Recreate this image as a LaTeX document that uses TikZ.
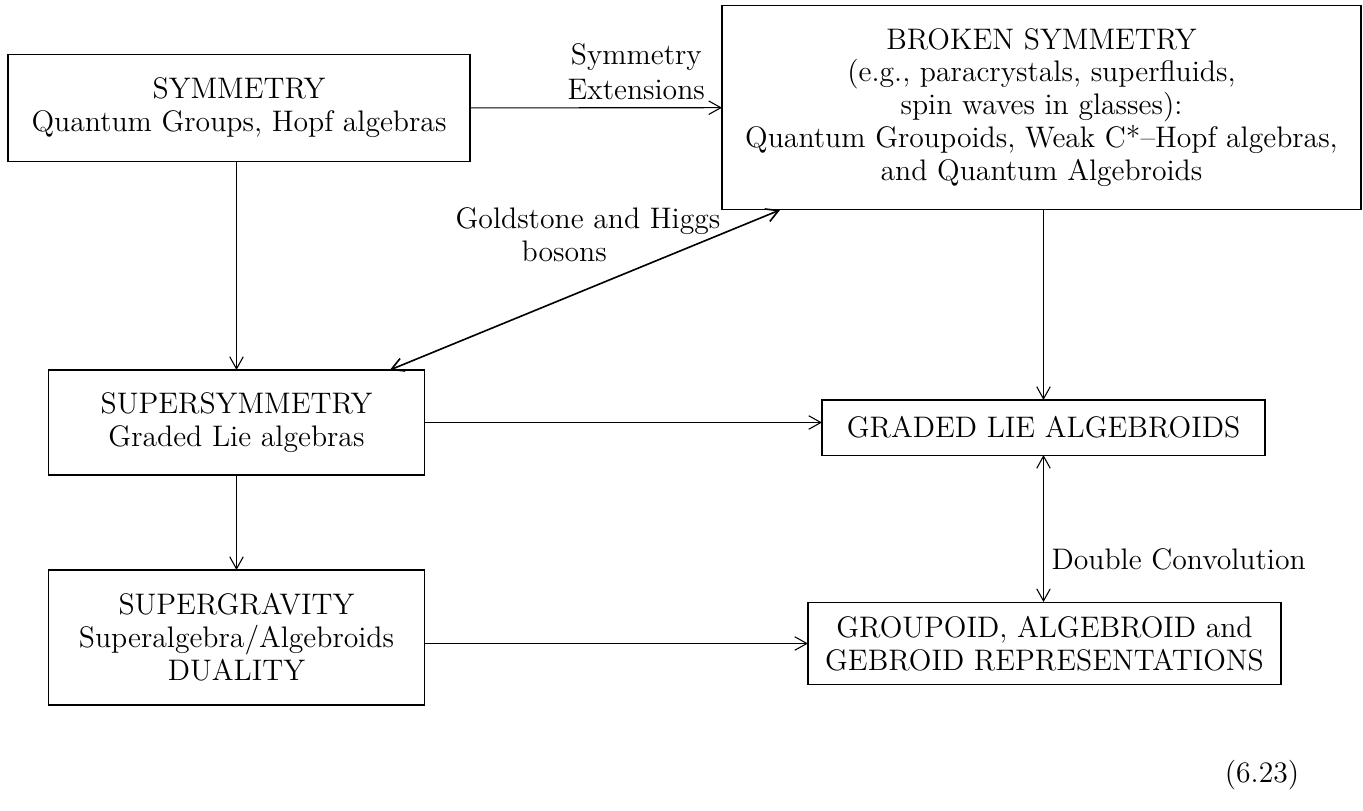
\documentclass[tikz,border=0pt]{standalone}
\usepackage{xcolor}
\usepackage{tikz}
\usetikzlibrary{arrows.meta}

\begin{document}
\begin{tikzpicture}[x=0.3704pt,y=-0.3704pt,
  box/.style={draw=drawColor,line width=0.4pt,align=center,inner sep=0pt,outer sep=0pt,font=\fontsize{11}{12.2}\selectfont},
  lbl/.style={text=drawColor,align=center,inner sep=0pt,outer sep=0pt,font=\fontsize{11}{12.2}\selectfont},
  arr/.style={draw=drawColor,line width=0.4pt,-{Straight Barb[length=4.5pt,width=5pt]}},
  dblarr/.style={arr,{Straight Barb[length=4.5pt,width=5pt]}-{Straight Barb[length=4.5pt,width=5pt]}}]
\definecolor{drawColor}{RGB}{0,0,0}
\definecolor{fillColor}{RGB}{255,255,255}
\path[use as bounding box,fill=fillColor] (0,0) rectangle (1363,810);

\node[box,minimum width=171.1pt,minimum height=39.6pt] (sym) at (239,108) {SYMMETRY\\Quantum Groups, Hopf algebras};

\node[box,minimum width=236.7pt,minimum height=75.9pt] (broken) at (1041.5,107.5) {BROKEN SYMMETRY\\(e.g., paracrystals, superfluids,\\spin waves in glasses):\\Quantum Groupoids, Weak C*--Hopf algebras,\\and Quantum Algebroids};

\node[box,minimum width=139.6pt,minimum height=38.9pt] (susy) at (236.5,422.5) {SUPERSYMMETRY\\Graded Lie algebras};

\node[box,minimum width=164.1pt,minimum height=20.4pt] (graded) at (1043.5,427.5) {GRADED LIE ALGEBROIDS};

\node[box,minimum width=139.6pt,minimum height=50.0pt] (sugra) at (236.5,637.5) {SUPERGRAVITY\\Superalgebra/Algebroids\\DUALITY};

\node[box,minimum width=175.2pt,minimum height=30.7pt] (grp) at (1044.5,643.5) {GROUPOID, ALGEBROID and\\GEBROID REPRESENTATIONS};

\node[lbl] (eqno) at (1262,775) {(6.23)};

\draw[arr] (sym) -- (broken) node[lbl,above,pos=0.66,yshift=3pt,font=\fontsize{11}{13}\selectfont] (ext) {Symmetry\\Extensions};

\draw[arr] (susy.north |- sym.south) -- (susy.north);

\draw[arr] (graded.north |- broken.south) -- (graded.north);

\draw[arr] (susy.east) -- (susy.east -| graded.west);

\draw[arr] (susy) -- (sugra);

\draw[arr] (grp.west -| sugra.east) -- (grp.west);

\draw[dblarr] (graded.south) -- (graded.south |- grp.north) node[lbl,right,pos=0.71,xshift=3pt] (conv) {Double Convolution};

\draw[dblarr,line width=0.6pt] ([xshift=-13pt]susy.north east) -- ([xshift=21.5pt]broken.south west);

\node[lbl] (higgs) at (588,235) {Goldstone and Higgs\\bosons\hspace*{1.6em}};
\end{tikzpicture}
\end{document}
